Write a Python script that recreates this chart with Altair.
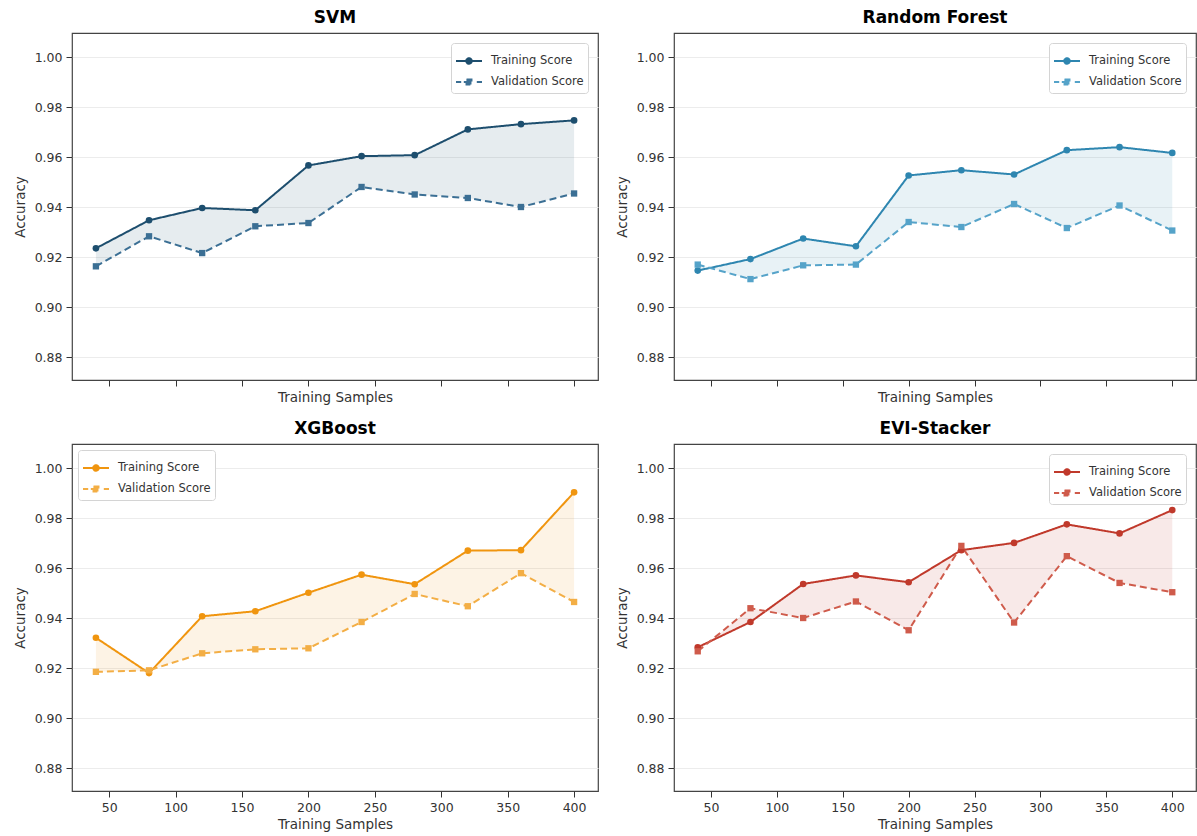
import altair as alt
import pandas as pd

# Training-set sizes used for every learning curve
SAMPLES = [40, 80, 120, 160, 200, 240, 280, 320, 360, 400]

# Mean cross-validated accuracy per model
SVM_TRAIN = [0.9236, 0.9348, 0.9397, 0.9388, 0.9567, 0.9604, 0.9608, 0.9711, 0.9732, 0.9747]
SVM_VAL = [0.9164, 0.9284, 0.9217, 0.9324, 0.9337, 0.9481, 0.9451, 0.9437, 0.9401, 0.9455]

RF_TRAIN = [0.9147, 0.9193, 0.9275, 0.9244, 0.9527, 0.9548, 0.9531, 0.9628, 0.9640, 0.9617]
RF_VAL = [0.9171, 0.9113, 0.9168, 0.9171, 0.9341, 0.9321, 0.9413, 0.9317, 0.9407, 0.9307]

XGB_TRAIN = [0.9322, 0.9181, 0.9408, 0.9428, 0.9502, 0.9574, 0.9536, 0.9670, 0.9672, 0.9903]
XGB_VAL = [0.9186, 0.9192, 0.9260, 0.9276, 0.9280, 0.9385, 0.9497, 0.9448, 0.9580, 0.9465]

EVI_TRAIN = [0.9284, 0.9385, 0.9537, 0.9571, 0.9544, 0.9672, 0.9701, 0.9775, 0.9739, 0.9832]
EVI_VAL = [0.9268, 0.9440, 0.9401, 0.9467, 0.9352, 0.9689, 0.9383, 0.9648, 0.9541, 0.9504]

SERIES = ["Training Score", "Validation Score"]
Y_TICKS = [0.88, 0.90, 0.92, 0.94, 0.96, 0.98, 1.00]
X_TICKS = [50, 100, 150, 200, 250, 300, 350, 400]

FONT = "DejaVu Sans"
PANEL_H = 347

# Legend glyphs: a short line with the series marker in the middle
# (solid line + circle, dashed line + square), in unit symbol space.
GLYPH_TRAIN = (
    "M-1,0H1"
    "M0.21,0A0.21,0.21,0,1,1,-0.21,0A0.21,0.21,0,1,1,0.21,0Z"
)
GLYPH_VAL = (
    "M-1,0H-0.6M-0.4,0H0.4M0.6,0H1"
    "M-0.19,-0.19H0.19V0.19H-0.19Z"
)


def panel(title, train, val, c_train, c_val, legend_orient, legend_offset, x_labels, width):
    long_df = pd.DataFrame({
        "samples": SAMPLES * 2,
        "score": train + val,
        "series": [SERIES[0]] * len(SAMPLES) + [SERIES[1]] * len(SAMPLES),
    })
    band_df = pd.DataFrame({"samples": SAMPLES, "train": train, "val": val})

    x = alt.X(
        "samples:Q",
        scale=alt.Scale(domain=[22, 418], nice=False, zero=False),
        axis=alt.Axis(
            title="Training Samples",
            values=X_TICKS,
            labels=x_labels,
            grid=False,
            tickSize=6,
            tickColor="#333",
            domain=False,
            labelFontSize=12.5,
            labelColor="#333",
            labelPadding=4,
            titleFontSize=13.5,
            titleFontWeight="normal",
            titleColor="#333",
            titlePadding=4,
        ),
    )
    y_scale = alt.Scale(domain=[0.871, 1.0096], nice=False, zero=False)
    y_axis = alt.Axis(
        title="Accuracy",
        values=Y_TICKS,
        format=".2f",
        grid=True,
        gridColor="#ececec",
        gridWidth=1,
        tickSize=6,
        tickColor="#333",
        domain=False,
        labelFontSize=12.5,
        labelColor="#333",
        labelPadding=4,
        titleFontSize=13.5,
        titleFontWeight="normal",
        titleColor="#333",
        titlePadding=7,
    )
    y = alt.Y("score:Q", scale=y_scale, axis=y_axis)
    color_scale = alt.Scale(domain=SERIES, range=[c_train, c_val])

    # Transparent copy of the points that only feeds the legend
    legend = alt.Legend(
        title=None,
        orient=legend_orient,
        offset=legend_offset,
        labelFont=FONT,
        labelFontSize=11.5,
        labelColor="#333",
        labelOffset=8,
        symbolSize=676,
        symbolStrokeWidth=2,
        symbolOpacity=1,
        rowPadding=0,
        padding=4,
        strokeColor="#d4d4d4",
        fillColor="#ffffff",
        cornerRadius=3,
    )
    key = alt.Chart(long_df).mark_point(
        filled=True, opacity=0, size=676, strokeWidth=2
    ).encode(
        x=x,
        y=y,
        fill=alt.Fill("series:N", scale=color_scale, legend=legend),
        stroke=alt.Stroke("series:N", scale=color_scale, legend=legend),
        shape=alt.Shape(
            "series:N",
            scale=alt.Scale(domain=SERIES, range=[GLYPH_TRAIN, GLYPH_VAL]),
            legend=legend,
        ),
    )

    band = alt.Chart(band_df).mark_area(color=c_train, opacity=0.11).encode(
        x=x,
        y=alt.Y("train:Q", scale=y_scale, axis=y_axis),
        y2="val:Q",
    )

    lines = alt.Chart(long_df).mark_line(strokeWidth=2).encode(
        x=x,
        y=y,
        color=alt.Color("series:N", scale=color_scale, legend=None),
        strokeDash=alt.StrokeDash(
            "series:N",
            scale=alt.Scale(domain=SERIES, range=[[1, 0], [7, 4]]),
            legend=None,
        ),
    )
    circles = alt.Chart(long_df).transform_filter(
        alt.datum.series == SERIES[0]
    ).mark_point(filled=True, opacity=1, size=44, shape="circle").encode(
        x=x,
        y=y,
        color=alt.Color("series:N", scale=color_scale, legend=None),
    )
    squares = alt.Chart(long_df).transform_filter(
        alt.datum.series == SERIES[1]
    ).mark_point(filled=True, opacity=1, size=40, shape="square").encode(
        x=x,
        y=y,
        color=alt.Color("series:N", scale=color_scale, legend=None),
    )

    return alt.layer(key, band, lines, circles, squares).properties(
        width=width,
        height=PANEL_H,
        title=alt.TitleParams(
            title, font=FONT, fontSize=17, fontWeight="bold", color="#000", offset=6
        ),
    )


svm = panel("SVM", SVM_TRAIN, SVM_VAL, "#1d4e6e", "#3b6f94", "top-right", 10, False, 526)
rf = panel("Random Forest", RF_TRAIN, RF_VAL, "#2e86b0", "#55a3c9", "top-right", 10, False, 522)
xgb = panel("XGBoost", XGB_TRAIN, XGB_VAL, "#f0950f", "#f3ae45", "top-left", 6, True, 526)
evi = panel("EVI-Stacker", EVI_TRAIN, EVI_VAL, "#c0392b", "#cf5b4b", "top-right", 10, True, 522)

indep = dict(
    color="independent", fill="independent", stroke="independent",
    strokeDash="independent", shape="independent",
)
indep_legend = dict(fill="independent", stroke="independent", shape="independent")

top = alt.hconcat(svm, rf, spacing=15).resolve_scale(**indep).resolve_legend(**indep_legend)
bottom = alt.hconcat(xgb, evi, spacing=15).resolve_scale(**indep).resolve_legend(**indep_legend)

chart = (
    alt.vconcat(top, bottom, spacing=14)
    .resolve_scale(**indep)
    .resolve_legend(**indep_legend)
    .properties(padding={"left": 12, "top": 8, "right": 0, "bottom": 0})
    .configure(font=FONT)
    .configure_view(stroke="#444", strokeWidth=1.2)
)

chart.save("out.html", embed_options={"renderer": "svg", "actions": False})
